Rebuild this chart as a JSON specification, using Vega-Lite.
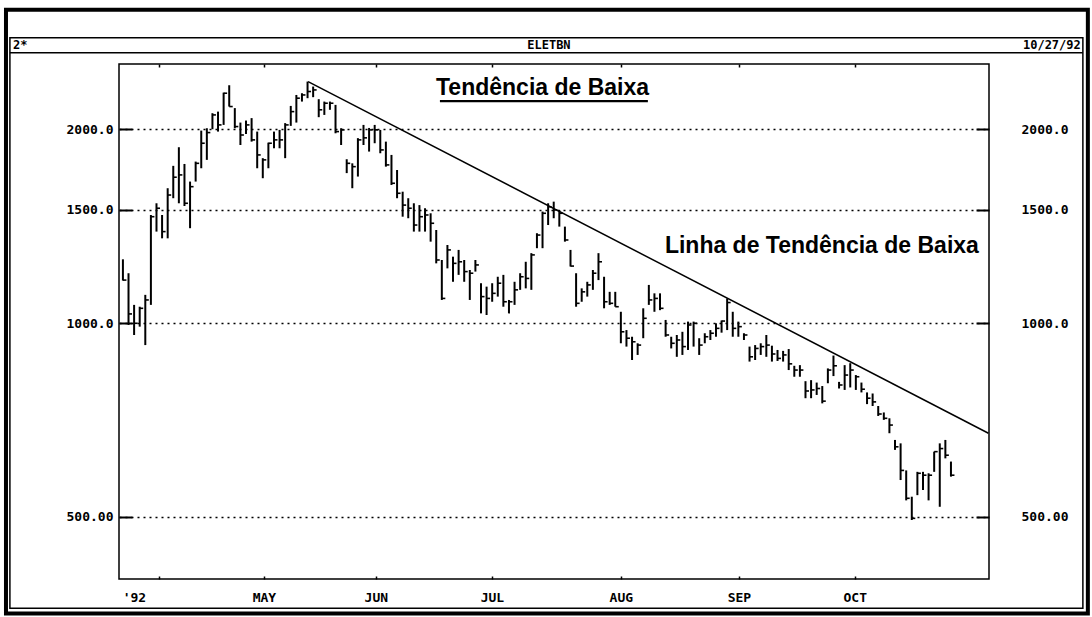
{
  "$schema": "https://vega.github.io/schema/vega-lite/v6.json",
  "width": 870,
  "height": 515,
  "autosize": {"type": "none"},
  "padding": {"left": 119, "top": 64, "right": 103, "bottom": 38},
  "background": "white",
  "config": {"view": {"stroke": "#000", "strokeWidth": 1.5}, "font": "DejaVu Sans Mono"},
  "datasets": {
    "bars": [
      {"i":0,"h":1256,"l":1164,"c":1166},{"i":1,"h":1195,"l":993,"c":1033},{"i":2,"h":1067,"l":958,"c":999},{"i":3,"h":1060,"l":987,"c":1054},{"i":4,"h":1106,"l":924,"c":1086},
      {"i":5,"h":1472,"l":1067,"c":1463},{"i":6,"h":1535,"l":1387,"c":1508},{"i":7,"h":1472,"l":1354,"c":1387},{"i":8,"h":1620,"l":1354,"c":1581},{"i":9,"h":1755,"l":1563,"c":1685},
      {"i":10,"h":1876,"l":1535,"c":1699},{"i":11,"h":1767,"l":1520,"c":1535},{"i":12,"h":1659,"l":1404,"c":1629},{"i":13,"h":1782,"l":1659,"c":1771},{"i":14,"h":1991,"l":1740,"c":1903},
      {"i":15,"h":2008,"l":1793,"c":1977},{"i":16,"h":2119,"l":2001,"c":2106},{"i":17,"h":2131,"l":1984,"c":2032},{"i":18,"h":2281,"l":2032,"c":2276},{"i":19,"h":2342,"l":2170,"c":2170},
      {"i":20,"h":2158,"l":2008,"c":2020},{"i":21,"h":2049,"l":1891,"c":1960},{"i":22,"h":2064,"l":1967,"c":2032},{"i":23,"h":2082,"l":1914,"c":1926},{"i":24,"h":1984,"l":1740,"c":1825},
      {"i":25,"h":1804,"l":1679,"c":1793},{"i":26,"h":1907,"l":1740,"c":1903},{"i":27,"h":1984,"l":1869,"c":1926},{"i":28,"h":1996,"l":1869,"c":1926},{"i":29,"h":2045,"l":1804,"c":2032},
      {"i":30,"h":2175,"l":2025,"c":2131},{"i":31,"h":2262,"l":2049,"c":2236},{"i":32,"h":2276,"l":2209,"c":2262},{"i":33,"h":2373,"l":2236,"c":2290},{"i":34,"h":2331,"l":2244,"c":2303},
      {"i":35,"h":2228,"l":2089,"c":2145},{"i":36,"h":2209,"l":2106,"c":2196},{"i":37,"h":2209,"l":2145,"c":2196},{"i":38,"h":2183,"l":1972,"c":1984},{"i":39,"h":2008,"l":1891,"c":1996},
      {"i":40,"h":1797,"l":1710,"c":1771},{"i":41,"h":1771,"l":1620,"c":1750},{"i":42,"h":1938,"l":1689,"c":1926},{"i":43,"h":2032,"l":1891,"c":1940},{"i":44,"h":2010,"l":1847,"c":1996},
      {"i":45,"h":2032,"l":1903,"c":1996},{"i":46,"h":1996,"l":1836,"c":1858},{"i":47,"h":1914,"l":1750,"c":1761},{"i":48,"h":1825,"l":1639,"c":1649},{"i":49,"h":1729,"l":1563,"c":1591},
      {"i":50,"h":1600,"l":1463,"c":1525},{"i":51,"h":1563,"l":1455,"c":1508},{"i":52,"h":1535,"l":1387,"c":1420},{"i":53,"h":1525,"l":1387,"c":1463},{"i":54,"h":1508,"l":1387,"c":1472},
      {"i":55,"h":1481,"l":1338,"c":1429},{"i":56,"h":1395,"l":1238,"c":1253},{"i":57,"h":1253,"l":1086,"c":1092},{"i":58,"h":1322,"l":1216,"c":1299},{"i":59,"h":1268,"l":1159,"c":1238},
      {"i":60,"h":1299,"l":1188,"c":1245},{"i":61,"h":1253,"l":1159,"c":1202},{"i":62,"h":1209,"l":1086,"c":1195},{"i":63,"h":1253,"l":1202,"c":1231},{"i":64,"h":1153,"l":1035,"c":1099},
      {"i":65,"h":1139,"l":1029,"c":1092},{"i":66,"h":1153,"l":1079,"c":1112},{"i":67,"h":1180,"l":1099,"c":1153},{"i":68,"h":1188,"l":1060,"c":1079},{"i":69,"h":1086,"l":1035,"c":1079},
      {"i":70,"h":1159,"l":1067,"c":1126},{"i":71,"h":1195,"l":1126,"c":1180},{"i":72,"h":1245,"l":1132,"c":1173},{"i":73,"h":1284,"l":1126,"c":1276},{"i":74,"h":1379,"l":1307,"c":1370},
      {"i":75,"h":1490,"l":1307,"c":1481},{"i":76,"h":1535,"l":1420,"c":1516},{"i":77,"h":1544,"l":1455,"c":1499},{"i":78,"h":1499,"l":1412,"c":1481},{"i":79,"h":1412,"l":1338,"c":1346},
      {"i":80,"h":1299,"l":1224,"c":1226},{"i":81,"h":1195,"l":1060,"c":1073},{"i":82,"h":1132,"l":1079,"c":1118},{"i":83,"h":1159,"l":1099,"c":1146},{"i":84,"h":1209,"l":1126,"c":1195},
      {"i":85,"h":1284,"l":1166,"c":1245},{"i":86,"h":1180,"l":1054,"c":1079},{"i":87,"h":1118,"l":1067,"c":1073},{"i":88,"h":1118,"l":1060,"c":1060},{"i":89,"h":1041,"l":930,"c":969},
      {"i":90,"h":975,"l":919,"c":947},{"i":91,"h":952,"l":876,"c":935},{"i":92,"h":930,"l":892,"c":924},{"i":93,"h":1054,"l":947,"c":1017},{"i":94,"h":1146,"l":1067,"c":1086},
      {"i":95,"h":1112,"l":1041,"c":1092},{"i":96,"h":1112,"l":1047,"c":1054},{"i":97,"h":1011,"l":952,"c":958},{"i":98,"h":952,"l":913,"c":930},{"i":99,"h":958,"l":886,"c":941},
      {"i":100,"h":969,"l":892,"c":919},{"i":101,"h":1005,"l":908,"c":993},{"i":102,"h":1005,"l":919,"c":999},{"i":103,"h":947,"l":892,"c":924},{"i":104,"h":964,"l":930,"c":952},
      {"i":105,"h":975,"l":941,"c":964},{"i":106,"h":999,"l":952,"c":981},{"i":107,"h":1009,"l":966,"c":1007},{"i":108,"h":1092,"l":975,"c":1076},{"i":109,"h":1041,"l":952,"c":981},
      {"i":110,"h":1005,"l":952,"c":987},{"i":111,"h":964,"l":941,"c":958},{"i":112,"h":919,"l":871,"c":886},{"i":113,"h":924,"l":876,"c":913},{"i":114,"h":930,"l":892,"c":919},
      {"i":115,"h":958,"l":886,"c":924},{"i":116,"h":922,"l":871,"c":895},{"i":117,"h":908,"l":873,"c":881},{"i":118,"h":905,"l":871,"c":892},{"i":119,"h":911,"l":845,"c":864},
      {"i":120,"h":858,"l":825,"c":845},{"i":121,"h":860,"l":825,"c":845},{"i":122,"h":812,"l":764,"c":784},{"i":123,"h":815,"l":764,"c":787},{"i":124,"h":808,"l":773,"c":791},
      {"i":125,"h":798,"l":750,"c":756},{"i":126,"h":850,"l":806,"c":845},{"i":127,"h":890,"l":827,"c":858},{"i":128,"h":810,"l":791,"c":801},{"i":129,"h":860,"l":787,"c":830},
      {"i":130,"h":866,"l":794,"c":845},{"i":131,"h":830,"l":787,"c":825},{"i":132,"h":808,"l":780,"c":789},{"i":133,"h":780,"l":748,"c":764},{"i":134,"h":777,"l":743,"c":754},
      {"i":135,"h":743,"l":717,"c":722},{"i":136,"h":726,"l":707,"c":711},{"i":137,"h":711,"l":674,"c":694},{"i":138,"h":658,"l":635,"c":642},{"i":139,"h":650,"l":570,"c":590},
      {"i":140,"h":590,"l":530,"c":534},{"i":141,"h":537,"l":494,"c":497},{"i":142,"h":587,"l":540,"c":584},{"i":143,"h":587,"l":550,"c":580},{"i":144,"h":584,"l":530,"c":580},
      {"i":145,"h":631,"l":587,"c":631},{"i":146,"h":650,"l":518,"c":638},{"i":147,"h":658,"l":616,"c":623},{"i":148,"h":609,"l":577,"c":580}
    ],
    "trend": [{"t": 33.1, "v": 2373}, {"t": 154.7, "v": 674}]
  },
  "resolve": {"axis": {"x": "independent", "y": "independent"}},
  "layer": [
    {
      "data": {"values": [{}]},
      "mark": {"type": "rect", "fillOpacity": 0, "stroke": "#000", "strokeWidth": 4},
      "encoding": {
        "x": {"datum": -20.9, "type": "quantitative", "scale": {"domain": [-0.7, 154.8], "nice": false, "zero": false}, "axis": null},
        "x2": {"datum": 172.47},
        "y": {"datum": 3068, "type": "quantitative", "scale": {"type": "log", "domain": [400, 2527], "nice": false}, "axis": null},
        "y2": {"datum": 353.4}
      }
    },
    {
      "data": {"values": [{}]},
      "mark": {"type": "rect", "fillOpacity": 0, "stroke": "#000", "strokeWidth": 1.5},
      "encoding": {
        "x": {"datum": -20.2, "type": "quantitative", "scale": {"domain": [-0.7, 154.8], "nice": false, "zero": false}, "axis": null},
        "x2": {"datum": 171.58},
        "y": {"datum": 2775, "type": "quantitative", "scale": {"type": "log", "domain": [400, 2527], "nice": false}, "axis": null},
        "y2": {"datum": 360.3}
      }
    },
    {
      "data": {"values": [{}]},
      "mark": {"type": "rule", "stroke": "#000", "strokeWidth": 1.5},
      "encoding": {
        "x": {"datum": -20.2, "type": "quantitative", "scale": {"domain": [-0.7, 154.8], "nice": false, "zero": false}, "axis": null},
        "x2": {"datum": 171.58},
        "y": {"datum": 2630, "type": "quantitative", "scale": {"type": "log", "domain": [400, 2527], "nice": false}, "axis": null}
      }
    },
    {
      "data": {"values": [{}]},
      "mark": {"type": "text", "font": "DejaVu Sans Mono", "fontWeight": "bold", "fontSize": 12, "align": "left", "baseline": "middle", "color": "#000"},
      "encoding": {
        "x": {"datum": -19.66, "type": "quantitative", "scale": {"domain": [-0.7, 154.8], "nice": false, "zero": false}, "axis": null},
        "y": {"datum": 2701, "type": "quantitative", "scale": {"type": "log", "domain": [400, 2527], "nice": false}, "axis": null},
        "text": {"value": "2*"}
      }
    },
    {
      "data": {"values": [{}]},
      "mark": {"type": "text", "font": "DejaVu Sans Mono", "fontWeight": "bold", "fontSize": 12, "align": "center", "baseline": "middle", "color": "#000"},
      "encoding": {
        "x": {"datum": 76.14, "type": "quantitative", "scale": {"domain": [-0.7, 154.8], "nice": false, "zero": false}, "axis": null},
        "y": {"datum": 2701, "type": "quantitative", "scale": {"type": "log", "domain": [400, 2527], "nice": false}, "axis": null},
        "text": {"value": "ELETBN"}
      }
    },
    {
      "data": {"values": [{}]},
      "mark": {"type": "text", "font": "DejaVu Sans Mono", "fontWeight": "bold", "fontSize": 12, "align": "right", "baseline": "middle", "color": "#000"},
      "encoding": {
        "x": {"datum": 171.2, "type": "quantitative", "scale": {"domain": [-0.7, 154.8], "nice": false, "zero": false}, "axis": null},
        "y": {"datum": 2701, "type": "quantitative", "scale": {"type": "log", "domain": [400, 2527], "nice": false}, "axis": null},
        "text": {"value": "10/27/92"}
      }
    },
    {
      "data": {"name": "bars"},
      "mark": {"type": "rule", "strokeWidth": 2, "color": "#000"},
      "encoding": {
        "x": {
          "field": "i", "type": "quantitative",
          "scale": {"domain": [-0.7, 154.8], "nice": false, "zero": false},
          "axis": {
            "orient": "bottom", "title": null, "domain": false, "grid": false,
            "values": [6.43, 25.2, 45.2, 65.95, 89, 110.1, 130.8],
            "labelExpr": "datum.value < 10 ? \"'92\" : datum.value < 30 ? 'MAY' : datum.value < 50 ? 'JUN' : datum.value < 70 ? 'JUL' : datum.value < 95 ? 'AUG' : datum.value < 120 ? 'SEP' : 'OCT'",
            "tickSize": -3, "tickWidth": 1.5, "tickColor": "#000",
            "labelPadding": 15, "labelFont": "DejaVu Sans Mono", "labelFontWeight": "bold", "labelFontSize": 13, "labelColor": "#000",
            "labelOffset": {"condition": {"test": "datum.value < 10", "value": -25}, "value": 0},
            "labelFlush": false, "labelOverlap": false, "labelBound": false
          }
        },
        "y": {
          "field": "h", "type": "quantitative",
          "scale": {"type": "log", "domain": [400, 2527], "nice": false},
          "axis": {
            "orient": "left", "title": null, "domain": false,
            "values": [500, 1000, 1500, 2000],
            "labelExpr": "datum.value < 1000 ? format(datum.value, '.2f') : format(datum.value, '.1f')",
            "grid": true, "gridDash": [2, 4], "gridColor": "#000", "gridWidth": 1.3, "gridOpacity": 1,
            "tickSize": -13, "tickWidth": 2, "tickColor": "#000",
            "labelPadding": 19, "labelFont": "DejaVu Sans Mono", "labelFontWeight": "bold", "labelFontSize": 13, "labelColor": "#000"
          }
        },
        "y2": {"field": "l"}
      }
    },
    {
      "data": {"name": "bars"},
      "mark": {"type": "tick", "orient": "horizontal", "size": 3.5, "thickness": 1.6, "xOffset": 1.75, "color": "#000", "opacity": 1},
      "encoding": {
        "x": {"field": "i", "type": "quantitative", "scale": {"domain": [-0.7, 154.8], "nice": false, "zero": false}, "axis": null},
        "y": {"field": "c", "type": "quantitative", "scale": {"type": "log", "domain": [400, 2527], "nice": false}, "axis": null}
      }
    },
    {
      "data": {"name": "trend"},
      "mark": {"type": "line", "color": "#000", "strokeWidth": 1.5},
      "encoding": {
        "x": {
          "field": "t", "type": "quantitative",
          "scale": {"domain": [-0.7, 154.8], "nice": false, "zero": false},
          "axis": {
            "orient": "top", "title": null, "domain": false, "grid": false, "labels": false,
            "values": [6.43, 25.2, 45.2, 65.95, 89, 110.1, 130.8],
            "tickSize": -3, "tickWidth": 1.5, "tickColor": "#000"
          }
        },
        "y": {
          "field": "v", "type": "quantitative",
          "scale": {"type": "log", "domain": [400, 2527], "nice": false},
          "axis": {
            "orient": "right", "title": null, "domain": false, "grid": false,
            "values": [500, 1000, 1500, 2000],
            "labelExpr": "datum.value < 1000 ? format(datum.value, '.2f') : format(datum.value, '.1f')",
            "tickSize": -13, "tickWidth": 2, "tickColor": "#000",
            "labelPadding": 45, "labelFont": "DejaVu Sans Mono", "labelFontWeight": "bold", "labelFontSize": 13, "labelColor": "#000"
          }
        }
      }
    },
    {
      "data": {"values": [{}]},
      "mark": {"type": "rule", "stroke": "#000", "strokeWidth": 2.2},
      "encoding": {
        "x": {"datum": 56.66, "type": "quantitative", "scale": {"domain": [-0.7, 154.8], "nice": false, "zero": false}, "axis": null},
        "x2": {"datum": 93.83},
        "y": {"datum": 2212, "type": "quantitative", "scale": {"type": "log", "domain": [400, 2527], "nice": false}, "axis": null}
      }
    },
    {
      "data": {"values": [{}]},
      "mark": {"type": "text", "font": "Liberation Sans", "fontWeight": "bold", "fontSize": 23, "align": "center", "baseline": "alphabetic", "color": "#000"},
      "encoding": {
        "x": {"datum": 75.0, "type": "quantitative", "scale": {"domain": [-0.7, 154.8], "nice": false, "zero": false}, "axis": null},
        "y": {"datum": 2262, "type": "quantitative", "scale": {"type": "log", "domain": [400, 2527], "nice": false}, "axis": null},
        "text": {"value": "Tendência de Baixa"}
      }
    },
    {
      "data": {"values": [{}]},
      "mark": {"type": "text", "font": "Liberation Sans", "fontWeight": "bold", "fontSize": 23, "align": "left", "baseline": "alphabetic", "color": "#000"},
      "encoding": {
        "x": {"datum": 96.87, "type": "quantitative", "scale": {"domain": [-0.7, 154.8], "nice": false, "zero": false}, "axis": null},
        "y": {"datum": 1284, "type": "quantitative", "scale": {"type": "log", "domain": [400, 2527], "nice": false}, "axis": null},
        "text": {"value": "Linha de Tendência de Baixa"}
      }
    }
  ]
}
